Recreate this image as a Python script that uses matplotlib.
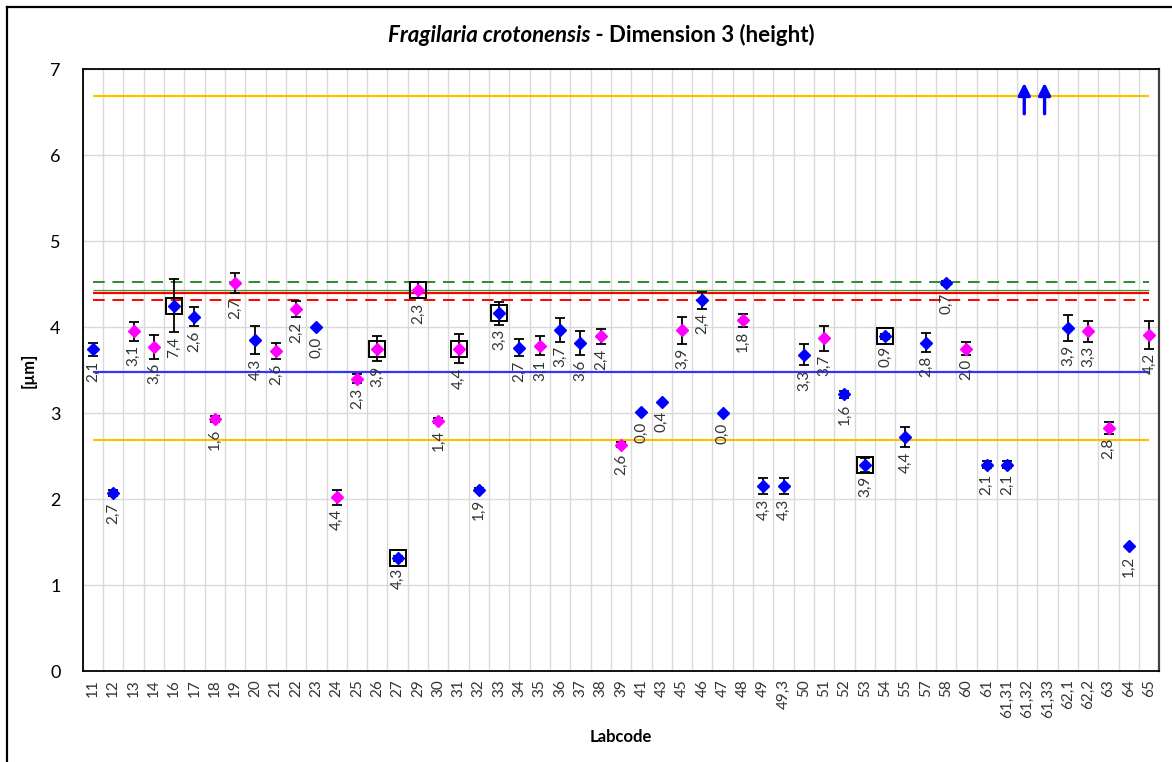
import matplotlib
matplotlib.use("Agg")
import matplotlib.pyplot as plt
from matplotlib.lines import Line2D
import numpy as np

plt.rcParams["font.family"] = ["Lato", "DejaVu Sans"]

# ── data ─────────────────────────────────────────────────────────────────────
labcodes = ["11", "12", "13", "14", "16", "17", "18", "19", "20", "21",
            "22", "23", "24", "25", "26", "27", "29", "30", "31", "32",
            "33", "34", "35", "36", "37", "38", "39", "41", "43", "45",
            "46", "47", "48", "49", "49,3", "50", "51", "52", "53", "54",
            "55", "57", "58", "60", "61", "61,31", "61,32", "61,33", "62,1", "62,2",
            "63", "64", "65"]

means = [3.74, 2.07, 3.95, 3.77, 4.25, 4.12, 2.93, 4.51, 3.85, 3.72,
         4.21, 4.00, 2.02, 3.40, 3.75, 1.31, 4.43, 2.91, 3.75, 2.11,
         4.16, 3.76, 3.78, 3.97, 3.81, 3.89, 2.63, 3.01, 3.13, 3.96,
         4.31, 3.00, 4.08, 2.15, 2.15, 3.68, 3.87, 3.22, 2.40, 3.89,
         2.72, 3.82, 4.51, 3.75, 2.40, 2.40, np.nan, np.nan, 3.99, 3.95,
         2.83, 1.45, 3.91]

errors = [0.08, 0.04, 0.11, 0.14, 0.31, 0.11, 0.03, 0.12, 0.165, 0.095,
          0.095, 0.0, 0.09, 0.05, 0.15, 0.03, 0.095, 0.03, 0.17, 0.02,
          0.135, 0.10, 0.11, 0.14, 0.14, 0.09, 0.03, 0.0, 0.0, 0.155,
          0.10, 0.0, 0.075, 0.095, 0.095, 0.125, 0.145, 0.04, 0.08, 0.03,
          0.12, 0.11, 0.02, 0.075, 0.04, 0.04, 0.0, 0.0, 0.15, 0.12,
          0.07, 0.0, 0.165]

cv_labels = ["2,1", "2,7", "3,1", "3,6", "7,4", "2,6", "1,6", "2,7", "4,3", "2,6",
             "2,2", "0,0", "4,4", "2,3", "3,9", "4,3", "2,3", "1,4", "4,4", "1,9",
             "3,3", "2,7", "3,1", "3,7", "3,6", "2,4", "2,6", "0,0", "0,4", "3,9",
             "2,4", "0,0", "1,8", "4,3", "4,3", "3,3", "3,7", "1,6", "3,9", "0,9",
             "4,4", "2,8", "0,7", "2,0", "2,1", "2,1", "", "", "3,9", "3,3",
             "2,8", "1,2", "4,2"]

# m = magenta, b = blue
point_colour = list("bbmmbbmmbm"
                    "mbmmmbmmmb"
                    "bbmbbmmbbm"
                    "bbmbbbmbbb"
                    "bbbmbbbbbm"
                    "mbm")

boxed = ["16", "26", "27", "29", "31", "33", "53", "54"]
off_scale = ["61,32", "61,33"]

assigned_value = 4.40
median_value = 4.425
upper_dashed_green = 4.52
lower_dashed_red = 4.31
mean_line = 3.48
tolerance_upper = 6.69
tolerance_lower = 2.69

colour_map = {"b": "#0000FF", "m": "#FF00FF"}

# ── plot ─────────────────────────────────────────────────────────────────────
fig = plt.figure(figsize=(11.72, 7.62), dpi=100)
ax = fig.add_axes([0.0706, 0.1194, 0.9186, 0.79])

x = np.arange(len(labcodes))
x0, x1 = x[0], x[-1]

ax.hlines(tolerance_upper, x0, x1, color="#FFC000", lw=1.6, zorder=2)
ax.hlines(tolerance_lower, x0, x1, color="#FFC000", lw=1.6, zorder=2)
ax.hlines(mean_line, x0, x1, color="#3333FF", lw=1.6, zorder=2)
ax.hlines(median_value, x0, x1, color="#3A9A3A", lw=0.9, zorder=2)
ax.hlines(assigned_value, x0, x1, color="#FF0000", lw=1.6, zorder=2.1)
ax.hlines(upper_dashed_green, x0, x1, color="#2E8B2E", lw=1.4,
          linestyles=(0, (6, 4)), zorder=2)
ax.hlines(lower_dashed_red, x0, x1, color="#FF0000", lw=1.4,
          linestyles=(0, (6, 4)), zorder=2)

for i, code in enumerate(labcodes):
    v, e = means[i], errors[i]
    if np.isnan(v):
        continue
    if e > 0:
        ax.errorbar(i, v, yerr=e, fmt="none", ecolor="black", elinewidth=1.3,
                    capsize=3.5, capthick=1.3, zorder=3)
    if code in boxed:
        ax.plot(i, v, marker="s", ms=12, mfc="none", mec="black", mew=1.4,
                zorder=4)
    ax.plot(i, v, marker="D", ms=6.5, color=colour_map[point_colour[i]],
            mec=colour_map[point_colour[i]], zorder=5)
    ax.annotate(cv_labels[i], xy=(i, v - max(e, 0.06)), xytext=(0, -3),
                textcoords="offset points", rotation=90, ha="center",
                va="top", fontsize=11, color="#333333", zorder=6)

for code in off_scale:
    i = labcodes.index(code)
    ax.annotate("", xy=(i - 0.15, 6.84), xytext=(i - 0.15, 6.48),
                arrowprops=dict(arrowstyle="-|>", color="#0000FF", lw=2.4,
                                mutation_scale=18, shrinkA=0, shrinkB=0),
                zorder=6)

ax.set_xlim(-0.5, len(labcodes) - 0.5)
ax.set_ylim(0, 7)
ax.set_xticks(x)
ax.set_xticklabels(labcodes, rotation=90, fontsize=11, color="#333333")
ax.set_yticks(range(0, 8))
ax.tick_params(axis="y", labelsize=13, length=0, pad=16)
ax.tick_params(axis="x", length=0, pad=6)

ax.set_xticks(np.arange(-0.5, len(labcodes), 1), minor=True)
ax.grid(True, which="minor", axis="x", color="#D9D9D9", lw=1)
ax.grid(True, which="major", axis="y", color="#D9D9D9", lw=1)
ax.tick_params(which="minor", length=0)
ax.set_axisbelow(True)

for side in ["left", "bottom", "top"]:
    ax.spines[side].set_color("black")
    ax.spines[side].set_linewidth(1.3)
ax.spines["right"].set_color("#404040")
ax.spines["right"].set_linewidth(1.6)

ax.set_xlabel("Labcode", fontsize=12, fontweight="bold", labelpad=8)
ax.set_ylabel("[µm]", fontsize=12, fontweight="bold", labelpad=10)

# title: italic species name followed by plain bold text
t1 = fig.text(388 / 1172, 1 - 35 / 762, "Fragilaria crotonensis", fontsize=16,
              fontweight="bold", fontstyle="italic", va="center", ha="left")
fig.canvas.draw()
bb = t1.get_window_extent()
fig.text(bb.x1 / fig.bbox.width, 1 - 35 / 762, " - Dimension 3 (height)",
         fontsize=16, fontweight="bold", va="center", ha="left")

# outer chart frame (top and left edges visible)
fig.add_artist(Line2D([7 / 1172, 1], [1 - 7 / 762, 1 - 7 / 762],
                      color="black", lw=1.6, transform=fig.transFigure))
fig.add_artist(Line2D([7 / 1172, 7 / 1172], [0, 1 - 7 / 762],
                      color="black", lw=1.6, transform=fig.transFigure))

fig.savefig("out.png", dpi=100)
